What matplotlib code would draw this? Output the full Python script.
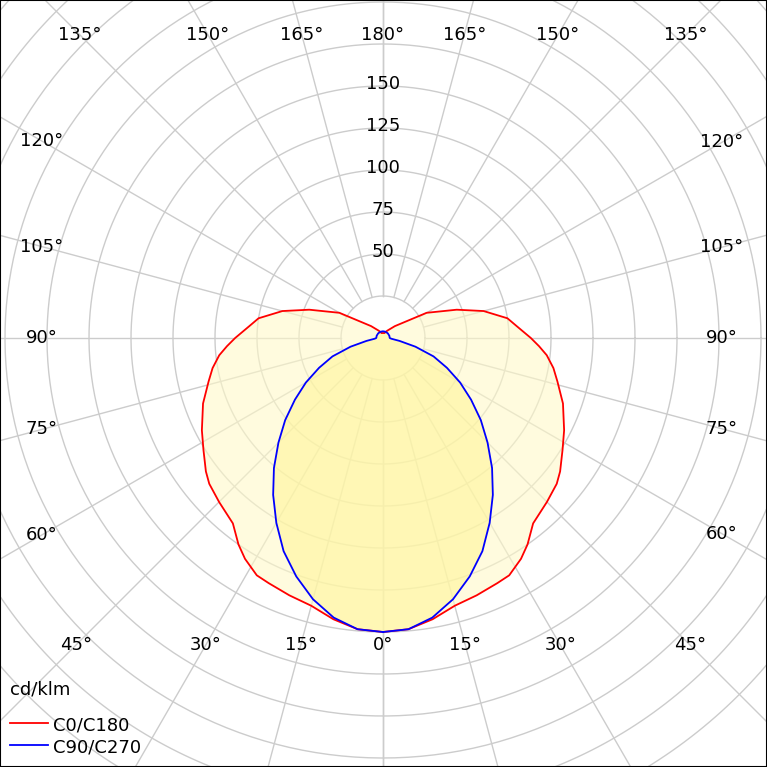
import numpy as np
import matplotlib as mp
mp.use('agg')
import matplotlib.pyplot as plt

# luminous intensity, cd/klm, gamma angle in degrees (0 = straight down)
c0_angles = [0, 5, 10, 15, 20, 25, 28, 32, 35, 39, 45, 50, 53, 58, 63, 70, 76, 80, 84, 87, 90, 95, 99, 105, 111, 120, 135, 150, 165, 180]
c0_values = [175, 174, 170, 165, 163, 161, 160, 155, 150, 142, 138, 135, 132, 126, 121, 114, 107, 103, 98, 93, 88, 80, 75, 62, 47, 30, 10, 5, 3, 3]

c90_angles = [0, 5, 10, 15, 20, 25, 30, 35, 40, 45, 50, 55, 60, 65, 70, 75, 80, 85, 90, 110, 135, 160, 180]
c90_values = [175, 174, 169, 161, 151, 140, 127, 114, 101, 88, 76, 64, 53, 42, 32, 20, 10, 5, 4, 4, 4, 4, 4]

ring_values = list(range(25, 325, 25))
ring_labels = [50, 75, 100, 125, 150]
angle_ticks = list(range(0, 181, 15))

S = 1.68  # pixels per cd/klm


def curve(angles, values):
    a = np.radians(np.array(angles, float))
    r = np.array(values, float)
    # right half then mirrored left half, closed loop
    x = np.concatenate([r * np.sin(a), (-r * np.sin(a))[::-1]])
    y = np.concatenate([-r * np.cos(a), (-r * np.cos(a))[::-1]])
    return x, y


def main():
    fig = plt.figure(figsize=(7.67, 7.67), dpi=100)
    ax = fig.add_axes([0, 0, 1, 1])
    ax.set_xlim(-383 / S, 384 / S)
    ax.set_ylim(-429 / S, 338 / S)
    ax.set_aspect('auto')
    ax.axis('off')

    grid = '#cccccc'
    t = np.linspace(0, 2 * np.pi, 400)
    for r in ring_values:
        ax.plot(r * np.cos(t), r * np.sin(t), color=grid, lw=1, zorder=1)
    for a in angle_ticks:
        ar = np.radians(a)
        for sgn in (1, -1):
            ax.plot([sgn * 25 * np.sin(ar), sgn * 400 * np.sin(ar)],
                    [-25 * np.cos(ar), -400 * np.cos(ar)], color=grid, lw=1, zorder=1)

    x0, y0 = curve(c0_angles, c0_values)
    x9, y9 = curve(c90_angles, c90_values)
    ax.fill(x0, y0, color='#fff9c8', alpha=0.6, zorder=2, lw=0)
    ax.fill(x9, y9, color='#fff59a', alpha=0.6, zorder=3, lw=0)
    ax.plot(x0, y0, color='#ff0000', lw=1.3, zorder=4)
    ax.plot(x9, y9, color='#0000ff', lw=1.3, zorder=5)

    for v in ring_labels:
        ax.text(0, v + 1, str(v), ha='center', va='center', fontsize=13, zorder=6)

    # angle labels placed where rays meet a box
    left, right, top, bot = -341 / S, 339 / S, 303 / S, -307 / S
    for a in angle_ticks:
        ar = np.radians(a)
        for sgn in (1, -1):
            if a == 0 and sgn < 0 or a == 180 and sgn < 0:
                continue
            dx, dy = sgn * np.sin(ar), -np.cos(ar)
            ts = []
            if dx > 1e-9:
                ts.append(right / dx)
            if dx < -1e-9:
                ts.append(left / dx)
            if dy > 1e-9:
                ts.append(top / dy)
            if dy < -1e-9:
                ts.append(bot / dy)
            k = min(ts)
            ax.text(k * dx, k * dy, '%d°' % a, ha='center', va='center', fontsize=13, zorder=6)

    ax.text(-373 / S, -352 / S, 'cd/klm', fontsize=13, va='center')
    ax.plot([-373 / S, -335 / S], [-385 / S, -385 / S], color='#ff0000', lw=1.3)
    ax.text(-330 / S, -387 / S, 'C0/C180', fontsize=13, va='center')
    ax.plot([-373 / S, -335 / S], [-407 / S, -407 / S], color='#0000ff', lw=1.3)
    ax.text(-330 / S, -409 / S, 'C90/C270', fontsize=13, va='center')

    fig.patches.append(plt.Rectangle((0, 0), 1, 1, transform=fig.transFigure,
                                     fill=False, edgecolor='black', lw=1.5))
    fig.savefig('out.png', dpi=100)


if __name__ == '__main__':
    main()
